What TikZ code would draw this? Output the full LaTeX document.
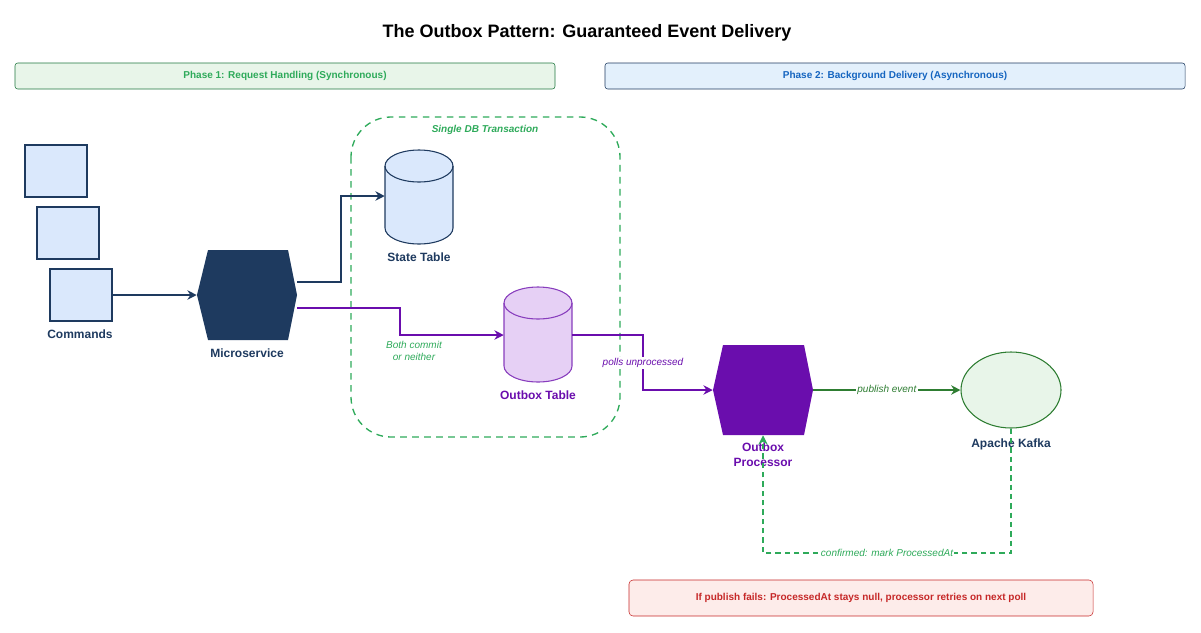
\documentclass[tikz,border=0pt]{standalone}
\usepackage{fontspec}
\setmainfont{Liberation Sans}
\usetikzlibrary{arrows.meta,shapes.geometric}
\definecolor{navy}{HTML}{1E3A5F}
\definecolor{lblue}{HTML}{DAE8FC}
\definecolor{grn}{HTML}{2EAA5A}
\definecolor{dgrn}{HTML}{2E7D32}
\definecolor{lgrn}{HTML}{E8F5E9}
\definecolor{purp}{HTML}{6A0DAD}
\definecolor{lpurp}{HTML}{E6D0F5}
\definecolor{pblue}{HTML}{1565C0}
\definecolor{lpb}{HTML}{E3F0FC}
\definecolor{red1}{HTML}{C62828}
\definecolor{lred}{HTML}{FDECEA}
\begin{document}
\begin{tikzpicture}[x=0.75pt,y=-0.75pt,font=\fontsize{8.5}{10}\selectfont,
  lbl/.style={font=\fontsize{9}{11}\selectfont\bfseries,align=center},
  anchor node/.style={inner sep=0pt,minimum width=#1},
  arr/.style={line width=1.3pt,-{Stealth[length=7pt,width=7pt]}},
  el/.style={font=\fontsize{7.5}{9}\selectfont\itshape,align=center}]
\useasboundingbox (0,0) rectangle (1201,632);
\node[font=\fontsize{13.5}{15}\selectfont\bfseries] (title) at (587,33) {The Outbox Pattern: Guaranteed Event Delivery};
% phases
\node[draw=grn!70!black,fill=lgrn,rounded corners=2pt,minimum width=540*0.75pt,minimum height=26*0.75pt,text=grn,font=\fontsize{7.5}{9}\selectfont\bfseries] (p1) at (285,76) {Phase 1: Request Handling (Synchronous)};
\node[draw=navy,fill=lpb,rounded corners=2pt,minimum width=580*0.75pt,minimum height=26*0.75pt,text=pblue,font=\fontsize{7.5}{9}\selectfont\bfseries] (p2) at (895,76) {Phase 2: Background Delivery (Asynchronous)};
% transaction
\draw[grn,line width=1pt,dash pattern=on 5pt off 4pt,rounded corners=30pt] (351,117) rectangle (620,437);
\node[text=grn,font=\fontsize{7.5}{9}\selectfont\bfseries\itshape] (tx) at (485,130) {Single DB Transaction};
% commands
\foreach \x/\y/\n in {25/145/c1,37/207/c2,50/269/c3}
  \draw[navy,fill=lblue,line width=0.8pt] (\x,\y) rectangle ++(62,52);
\node[anchor node=62*0.75pt,minimum height=52*0.75pt] (cmd) at (80.5,295) {};
\node[lbl,text=navy] (cmdl) at (80,334) {Commands};
% microservice
\fill[navy] (208,250) -- (288,250) -- (297,295) -- (288,340) -- (208,340) -- (197,295) -- cycle;
\node[anchor node=100*0.75pt,minimum height=90*0.75pt] (ms) at (247,295) {};
\node[lbl,text=navy] (msl) at (247,353) {Microservice};
% state table
\draw[navy,fill=lblue,line width=0.8pt] (385,166) -- (385,228) arc[start angle=180,end angle=0,x radius=34,y radius=16] -- (453,166) arc[start angle=0,end angle=-180,x radius=34,y radius=16] -- cycle;
\draw[navy,line width=0.8pt] (385,166) arc[start angle=180,end angle=0,x radius=34,y radius=16];
\node[anchor node=68*0.75pt,minimum height=94*0.75pt] (st) at (419,197) {};
\node[lbl,text=navy] (stl) at (419,257) {State Table};
% outbox table
\draw[purp!80,fill=lpurp,line width=0.8pt] (504,303) -- (504,366) arc[start angle=180,end angle=0,x radius=34,y radius=16] -- (572,303) arc[start angle=0,end angle=-180,x radius=34,y radius=16] -- cycle;
\draw[purp!80,line width=0.8pt] (504,303) arc[start angle=180,end angle=0,x radius=34,y radius=16];
\node[anchor node=68*0.75pt,minimum height=95*0.75pt] (ot) at (538,335) {};
\node[lbl,text=purp] (otl) at (538,395) {Outbox Table};
% processor
\fill[purp] (723,345) -- (804,345) -- (813,390) -- (804,435) -- (723,435) -- (713,390) -- cycle;
\node[anchor node=100*0.75pt,minimum height=90*0.75pt] (op) at (763,390) {};
\node[lbl,text=purp] (opl) at (763,455) {Outbox\\Processor};
% kafka
\node[ellipse,draw=dgrn,fill=lgrn,line width=0.8pt,minimum width=100*0.75pt,minimum height=76*0.75pt,inner sep=0pt] (kf) at (1011,390) {};
\node[lbl,text=navy] (kfl) at (1011,444) {Apache Kafka};
% red box
\node[draw=red1,fill=lred,rounded corners=3pt,minimum width=464*0.75pt,minimum height=36*0.75pt,text=red1,font=\fontsize{7.5}{9}\selectfont\bfseries] (rb) at (861,598) {If publish fails: ProcessedAt stays null, processor retries on next poll};
% edges
\draw[arr,navy] (cmd.east) -- (ms.west);
\draw[arr,navy] (ms.east|-0,282) -- (341,282) -- (341,196) -- (st.west|-0,196);
\draw[arr,purp] (ms.east|-0,308) -- (400,308) -- (400,335) -- (ot.west);
\node[el,text=grn] (bc) at (414,351) {Both commit\\or neither};
\draw[arr,purp] (ot.east) -- (643,335) -- (643,390) -- (op.west);
\node[el,text=purp,fill=white,inner sep=1pt] (pu) at (643,363) {polls unprocessed};
\draw[arr,dgrn] (op.east) -- (kf.west) node[midway,el,text=dgrn,fill=white,inner sep=1pt] {publish event};
\draw[grn,line width=0.9pt,dash pattern=on 4pt off 3pt,-{Stealth[length=7pt,width=7pt]}] (kf.south) -- (1011,553) -- node[el,fill=white,inner sep=1pt,text=grn] {confirmed: mark ProcessedAt} (763,553) -- (op.south);
\end{tikzpicture}
\end{document}
